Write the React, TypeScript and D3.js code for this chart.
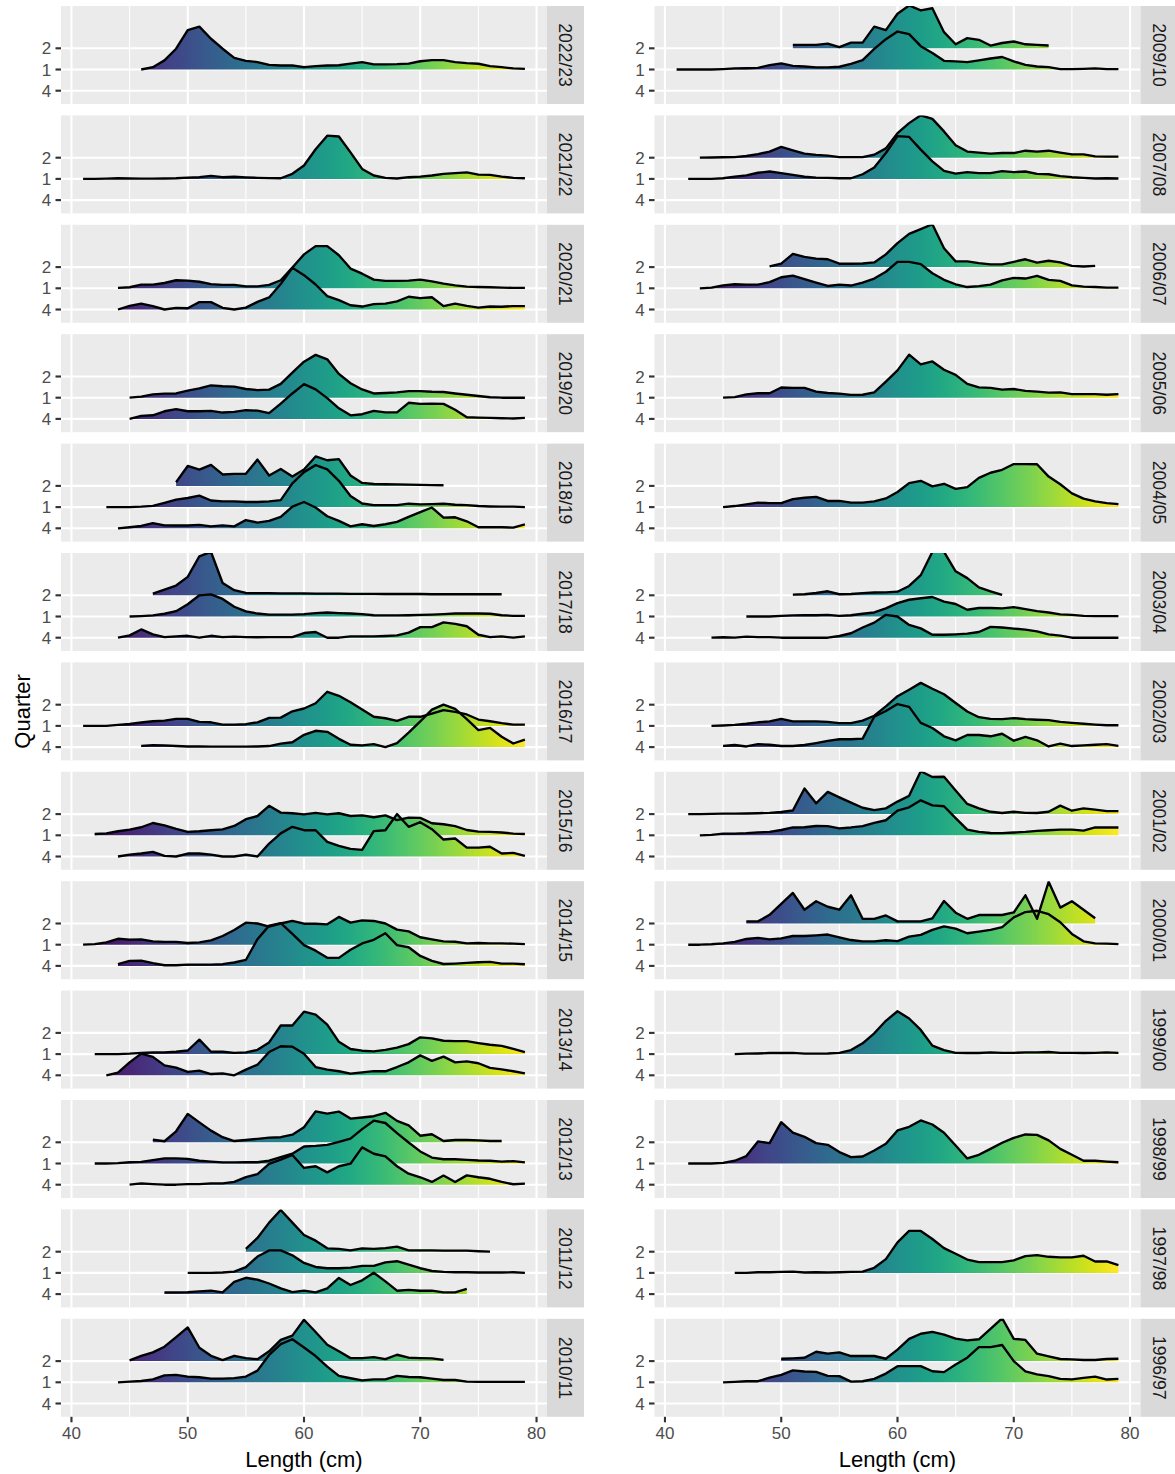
import React, { useEffect, useRef } from 'react';
import * as d3 from 'd3';

// one ridge: relative frequency per 1 cm length class, starting at `from`
type Ridge = { quarter: string; from: number; h: number[] };

const quarters = ["2", "1", "4"]; // top to bottom
const xTicks = [40, 50, 60, 70, 80];
const xMinor = [45, 55, 65, 75];

const leftSeasons = ["2022/23", "2021/22", "2020/21", "2019/20", "2018/19", "2017/18", "2016/17",
  "2015/16", "2014/15", "2013/14", "2012/13", "2011/12", "2010/11"];
const rightSeasons = ["2009/10", "2007/08", "2006/07", "2005/06", "2004/05", "2003/04", "2002/03",
  "2001/02", "2000/01", "1999/00", "1998/99", "1997/98", "1996/97"];

const s2022_23: Ridge[] = [
  { quarter: "1", from: 46, h: [0, 0.11, 0.43, 0.98, 1.86, 2.02, 1.45, 0.98, 0.55, 0.41, 0.35, 0.22, 0.19, 0.19, 0.11, 0.16, 0.19, 0.2, 0.28, 0.35, 0.24, 0.24, 0.25, 0.28, 0.39, 0.44, 0.44, 0.35, 0.3, 0.27, 0.16, 0.11, 0.05, 0.03] },
];
const s2021_22: Ridge[] = [
  { quarter: "1", from: 41, h: [0, 0, 0.01, 0.03, 0.02, 0.01, 0.01, 0.02, 0.03, 0.06, 0.08, 0.14, 0.08, 0.1, 0.07, 0.05, 0.04, 0.03, 0.24, 0.63, 1.4, 2.04, 2.0, 1.25, 0.47, 0.16, 0.05, 0.02, 0.08, 0.11, 0.16, 0.24, 0.27, 0.31, 0.2, 0.19, 0.11, 0.05, 0.03] },
];
const s2020_21: Ridge[] = [
  { quarter: "1", from: 44, h: [0.02, 0.05, 0.17, 0.17, 0.25, 0.38, 0.36, 0.31, 0.2, 0.16, 0.16, 0.09, 0.09, 0.16, 0.38, 0.98, 1.6, 1.99, 1.99, 1.56, 0.93, 0.69, 0.41, 0.35, 0.35, 0.36, 0.41, 0.33, 0.22, 0.14, 0.08, 0.06, 0.05, 0.03, 0.02, 0.02] },
  { quarter: "4", from: 44, h: [0, 0.17, 0.28, 0.16, 0, 0.08, 0.06, 0.35, 0.35, 0.08, 0, 0.09, 0.36, 0.57, 1.2, 1.97, 1.62, 1.18, 0.63, 0.44, 0.2, 0.14, 0.25, 0.28, 0.38, 0.6, 0.54, 0.58, 0.16, 0.28, 0.17, 0.09, 0.14, 0.13, 0.16, 0.16] },
];
const s2019_20: Ridge[] = [
  { quarter: "1", from: 45, h: [0, 0.05, 0.16, 0.19, 0.2, 0.33, 0.44, 0.58, 0.54, 0.52, 0.41, 0.36, 0.38, 0.65, 1.18, 1.7, 2.02, 1.81, 1.12, 0.68, 0.39, 0.2, 0.22, 0.25, 0.31, 0.31, 0.28, 0.27, 0.2, 0.14, 0.08, 0.02, 0, 0, 0] },
  { quarter: "4", from: 45, h: [0, 0.14, 0.17, 0.36, 0.46, 0.36, 0.36, 0.38, 0.3, 0.33, 0.41, 0.39, 0.27, 0.72, 1.2, 1.64, 1.39, 0.98, 0.5, 0.17, 0.22, 0.38, 0.31, 0.31, 0.76, 0.71, 0.72, 0.71, 0.43, 0.08, 0.06, 0.05, 0.03, 0.02, 0.05] },
];
const s2018_19: Ridge[] = [
  { quarter: "2", from: 49, h: [0.17, 0.94, 0.77, 0.99, 0.54, 0.57, 0.57, 1.24, 0.49, 0.8, 0.44, 0.77, 1.39, 1.21, 1.26, 0.49, 0.14, 0.09, 0.08, 0.07, 0.06, 0.05, 0.04, 0.03] },
  { quarter: "1", from: 43, h: [0, 0, 0, 0.02, 0.06, 0.2, 0.35, 0.43, 0.54, 0.31, 0.27, 0.27, 0.24, 0.24, 0.27, 0.33, 1.12, 1.65, 1.98, 1.78, 1.24, 0.52, 0.17, 0.09, 0.09, 0.09, 0.16, 0.13, 0.14, 0.16, 0.11, 0.09, 0.05, 0.03, 0.02, 0.02, 0] },
  { quarter: "4", from: 44, h: [0, 0.05, 0.11, 0.24, 0.14, 0.13, 0.13, 0.16, 0.09, 0.14, 0.09, 0.39, 0.27, 0.35, 0.54, 1.02, 1.24, 0.98, 0.57, 0.35, 0.09, 0.19, 0.11, 0.19, 0.3, 0.54, 0.76, 0.98, 0.5, 0.52, 0.33, 0.05, 0.05, 0.05, 0.03, 0.19] },
];
const s2017_18: Ridge[] = [
  { quarter: "2", from: 47, h: [0.08, 0.27, 0.46, 0.87, 1.84, 2.05, 0.58, 0.24, 0.11, 0.1, 0.1, 0.09, 0.09, 0.09, 0.08, 0.08, 0.08, 0.07, 0.07, 0.07, 0.06, 0.06, 0.06, 0.06, 0.05, 0.05, 0.05, 0.05, 0.05, 0.05, 0.05] },
  { quarter: "1", from: 45, h: [0, 0.02, 0.05, 0.13, 0.25, 0.58, 1.0, 1.04, 0.83, 0.46, 0.24, 0.14, 0.09, 0.09, 0.09, 0.11, 0.16, 0.19, 0.16, 0.14, 0.11, 0.06, 0.05, 0.05, 0.06, 0.08, 0.09, 0.11, 0.14, 0.14, 0.14, 0.13, 0.06, 0.03, 0.03] },
  { quarter: "4", from: 44, h: [0, 0.11, 0.39, 0.16, 0.03, 0.06, 0.09, 0, 0.09, 0.03, 0.05, 0.03, 0.02, 0.03, 0.03, 0.03, 0.22, 0.27, 0, 0, 0.06, 0.06, 0.06, 0.08, 0.11, 0.24, 0.5, 0.5, 0.72, 0.65, 0.54, 0.14, 0.03, 0.06, 0, 0.06] },
];
const s2016_17: Ridge[] = [
  { quarter: "1", from: 41, h: [0, 0, 0, 0.05, 0.09, 0.16, 0.22, 0.25, 0.33, 0.33, 0.19, 0.17, 0.06, 0.06, 0.08, 0.17, 0.38, 0.39, 0.69, 0.82, 1.07, 1.61, 1.42, 1.12, 0.77, 0.43, 0.36, 0.24, 0.43, 0.43, 0.58, 0.74, 0.66, 0.54, 0.3, 0.22, 0.13, 0.06, 0.06] },
  { quarter: "4", from: 46, h: [0.06, 0.09, 0.08, 0.05, 0.03, 0.03, 0.02, 0.02, 0.02, 0.02, 0.03, 0.05, 0.16, 0.23, 0.58, 0.77, 0.72, 0.39, 0.11, 0.08, 0.14, 0, 0.19, 0.68, 1.21, 1.77, 2.0, 1.8, 1.32, 0.8, 0.91, 0.49, 0.17, 0.35] },
];
const s2015_16: Ridge[] = [
  { quarter: "1", from: 42, h: [0.06, 0.09, 0.19, 0.27, 0.38, 0.58, 0.47, 0.3, 0.16, 0.19, 0.24, 0.28, 0.44, 0.76, 0.91, 1.39, 1.07, 1.04, 0.99, 1.06, 0.99, 1.04, 0.91, 0.94, 0.85, 0.94, 0.72, 0.83, 0.82, 0.57, 0.52, 0.43, 0.25, 0.17, 0.16, 0.13, 0.08, 0.06] },
  { quarter: "4", from: 44, h: [0, 0.09, 0.14, 0.22, 0.03, 0, 0.14, 0.14, 0.09, 0, 0, 0.09, 0, 0.61, 1.09, 1.4, 1.24, 1.24, 0.69, 0.5, 0.36, 0.31, 1.2, 1.24, 2.0, 1.4, 1.62, 1.29, 0.8, 0.85, 0.42, 0.42, 0.46, 0.14, 0.17, 0.03] },
];
const s2014_15: Ridge[] = [
  { quarter: "1", from: 41, h: [0, 0.03, 0.11, 0.28, 0.24, 0.25, 0.16, 0.13, 0.13, 0.08, 0.11, 0.2, 0.41, 0.69, 1.04, 1.0, 0.85, 1.0, 1.12, 0.99, 0.99, 0.96, 1.31, 1.04, 1.15, 1.12, 1.0, 0.71, 0.63, 0.35, 0.25, 0.16, 0.14, 0.06, 0.08, 0.06, 0.06, 0.05, 0.03] },
  { quarter: "4", from: 44, h: [0.08, 0.24, 0.25, 0.13, 0.03, 0.03, 0.06, 0.06, 0.06, 0.08, 0.16, 0.28, 1.26, 1.9, 2.02, 1.51, 0.98, 0.72, 0.38, 0.38, 0.76, 1.06, 1.23, 1.54, 0.98, 0.88, 0.47, 0.24, 0.09, 0.11, 0.14, 0.17, 0.19, 0.11, 0.11, 0.08] },
];
const s2013_14: Ridge[] = [
  { quarter: "1", from: 42, h: [0, 0, 0, 0.02, 0.06, 0.08, 0.08, 0.11, 0.17, 0.68, 0.11, 0.11, 0.06, 0.08, 0.2, 0.55, 1.35, 1.35, 2.0, 1.86, 1.39, 0.58, 0.24, 0.16, 0.13, 0.2, 0.31, 0.47, 0.79, 0.74, 0.63, 0.61, 0.61, 0.52, 0.44, 0.39, 0.25, 0.09] },
  { quarter: "4", from: 43, h: [0, 0.13, 0.61, 1.02, 0.87, 0.47, 0.36, 0.16, 0.22, 0.06, 0.09, 0, 0.27, 0.5, 1.1, 1.37, 1.35, 1.02, 0.39, 0.27, 0.19, 0.08, 0.14, 0.2, 0.19, 0.39, 0.61, 0.94, 0.68, 0.88, 0.61, 0.66, 0.57, 0.35, 0.28, 0.19, 0.09] },
];
const s2012_13: Ridge[] = [
  { quarter: "2", from: 47, h: [0.13, 0.05, 0.52, 1.34, 0.94, 0.55, 0.24, 0.06, 0.11, 0.16, 0.22, 0.24, 0.36, 0.71, 1.46, 1.35, 1.45, 1.12, 1.17, 1.23, 1.39, 1.01, 0.8, 0.31, 0.38, 0.06, 0.11, 0.11, 0.09, 0.06, 0.06] },
  { quarter: "1", from: 42, h: [0, 0, 0.02, 0.06, 0.08, 0.16, 0.24, 0.24, 0.22, 0.13, 0.09, 0.05, 0.05, 0.06, 0.06, 0.13, 0.3, 0.46, 0.8, 0.83, 0.88, 1.02, 1.17, 1.62, 2.02, 1.91, 1.43, 0.99, 0.57, 0.28, 0.2, 0.2, 0.17, 0.14, 0.13, 0.09, 0.11, 0.05] },
  { quarter: "4", from: 45, h: [0, 0.06, 0.03, 0, 0, 0.03, 0.03, 0.06, 0.06, 0.13, 0.36, 0.5, 0.98, 1.18, 1.4, 0.79, 0.87, 0.58, 0.87, 0.99, 1.76, 1.46, 1.34, 0.87, 0.52, 0.35, 0.13, 0.43, 0.13, 0.44, 0.35, 0.28, 0.13, 0.02, 0.05] },
];
const s2011_12: Ridge[] = [
  { quarter: "2", from: 55, h: [0.13, 0.65, 1.37, 1.97, 1.37, 0.79, 0.52, 0.16, 0.13, 0.06, 0.16, 0.13, 0.17, 0.24, 0.06, 0.06, 0.06, 0.05, 0.05, 0.05, 0.02, 0] },
  { quarter: "1", from: 50, h: [0, 0, 0, 0.02, 0.06, 0.27, 0.77, 1.06, 1.06, 0.83, 0.47, 0.28, 0.22, 0.22, 0.25, 0.33, 0.33, 0.5, 0.55, 0.39, 0.22, 0.09, 0.05, 0.03, 0.03, 0.02, 0.02, 0.02, 0.03, 0] },
  { quarter: "4", from: 48, h: [0.08, 0.08, 0.09, 0.13, 0.16, 0.08, 0.58, 0.77, 0.68, 0.5, 0.27, 0.09, 0.16, 0.08, 0.27, 0.76, 0.43, 0.65, 1.01, 0.6, 0.16, 0.2, 0.16, 0.16, 0.08, 0.08, 0.25] },
];
const s2010_11: Ridge[] = [
  { quarter: "2", from: 45, h: [0.03, 0.25, 0.41, 0.68, 1.13, 1.59, 0.63, 0.25, 0.05, 0.25, 0.14, 0.09, 0.46, 1.0, 1.2, 1.95, 1.37, 0.77, 0.46, 0.14, 0.14, 0.19, 0.09, 0.3, 0.16, 0.14, 0.13, 0.06] },
  { quarter: "1", from: 44, h: [0, 0.03, 0.06, 0.14, 0.33, 0.35, 0.27, 0.24, 0.17, 0.17, 0.2, 0.27, 0.55, 1.29, 1.8, 2.03, 1.64, 1.24, 0.74, 0.3, 0.19, 0.09, 0.14, 0.14, 0.3, 0.25, 0.24, 0.17, 0.11, 0.11, 0.03, 0.02, 0.02, 0.02, 0.02, 0.02] },
];

const s2009_10: Ridge[] = [
  { quarter: "2", from: 51, h: [0.16, 0.16, 0.16, 0.22, 0.06, 0.27, 0.27, 1.02, 0.86, 1.63, 2.02, 1.79, 1.89, 0.76, 0.19, 0.48, 0.4, 0.13, 0.25, 0.32, 0.19, 0.16, 0.13] },
  { quarter: "1", from: 41, h: [0, 0, 0, 0, 0.02, 0.05, 0.06, 0.08, 0.21, 0.29, 0.17, 0.14, 0.1, 0.1, 0.13, 0.27, 0.44, 0.97, 1.43, 1.79, 1.67, 1.1, 0.78, 0.41, 0.38, 0.35, 0.43, 0.52, 0.59, 0.38, 0.22, 0.14, 0.11, 0.02, 0.02, 0.03, 0.05, 0.02, 0.02] },
];
const s2007_08: Ridge[] = [
  { quarter: "2", from: 43, h: [0, 0.01, 0.02, 0.03, 0.08, 0.17, 0.29, 0.51, 0.35, 0.19, 0.13, 0.1, 0.03, 0.03, 0.03, 0.14, 0.44, 1.16, 1.63, 2.0, 1.83, 1.24, 0.59, 0.29, 0.24, 0.19, 0.22, 0.22, 0.33, 0.29, 0.33, 0.24, 0.16, 0.16, 0.06, 0.05, 0.05] },
  { quarter: "1", from: 42, h: [0, 0, 0, 0.03, 0.11, 0.17, 0.29, 0.35, 0.27, 0.19, 0.1, 0.06, 0.05, 0.03, 0.03, 0.22, 0.54, 1.22, 2.02, 1.98, 1.38, 0.83, 0.38, 0.25, 0.32, 0.27, 0.27, 0.37, 0.32, 0.35, 0.24, 0.22, 0.13, 0.08, 0.05, 0.02, 0.03, 0.02] },
];
const s2006_07: Ridge[] = [
  { quarter: "2", from: 49, h: [0.03, 0.16, 0.62, 0.48, 0.4, 0.37, 0.16, 0.16, 0.17, 0.22, 0.6, 1.13, 1.57, 1.79, 2.02, 0.89, 0.27, 0.27, 0.19, 0.13, 0.13, 0.25, 0.37, 0.21, 0.3, 0.22, 0.06, 0.03, 0.06] },
  { quarter: "1", from: 43, h: [0, 0.03, 0.14, 0.19, 0.17, 0.17, 0.29, 0.52, 0.6, 0.43, 0.27, 0.11, 0.17, 0.13, 0.27, 0.46, 0.78, 1.25, 1.25, 1.14, 0.71, 0.4, 0.19, 0.06, 0.1, 0.17, 0.37, 0.49, 0.46, 0.59, 0.4, 0.35, 0.14, 0.08, 0.06, 0.03, 0.03] },
];
const s2005_06: Ridge[] = [
  { quarter: "1", from: 45, h: [0, 0.03, 0.16, 0.21, 0.21, 0.48, 0.46, 0.46, 0.29, 0.22, 0.19, 0.13, 0.14, 0.25, 0.76, 1.29, 2.03, 1.57, 1.71, 1.32, 1.08, 0.65, 0.49, 0.46, 0.38, 0.41, 0.32, 0.29, 0.24, 0.25, 0.17, 0.17, 0.17, 0.14, 0.17] },
];
const s2004_05: Ridge[] = [
  { quarter: "1", from: 45, h: [0, 0.05, 0.13, 0.21, 0.19, 0.19, 0.38, 0.44, 0.48, 0.29, 0.29, 0.21, 0.21, 0.27, 0.41, 0.71, 1.13, 1.24, 0.98, 1.1, 0.86, 0.94, 1.38, 1.62, 1.76, 2.03, 2.03, 2.02, 1.44, 1.08, 0.65, 0.4, 0.27, 0.19, 0.14] },
];
const s2003_04: Ridge[] = [
  { quarter: "2", from: 51, h: [0.03, 0.05, 0.11, 0.19, 0.05, 0.06, 0.1, 0.13, 0.14, 0.17, 0.44, 0.95, 2.05, 2.05, 1.13, 0.81, 0.37, 0.19, 0.02] },
  { quarter: "1", from: 47, h: [0, 0, 0, 0.03, 0.05, 0.06, 0.06, 0.08, 0.03, 0.06, 0.13, 0.19, 0.38, 0.63, 0.79, 0.86, 0.92, 0.7, 0.59, 0.32, 0.4, 0.4, 0.38, 0.44, 0.35, 0.25, 0.19, 0.1, 0.08, 0.03, 0.02, 0.02, 0.02] },
  { quarter: "4", from: 44, h: [0, 0.02, 0, 0.05, 0.03, 0.03, 0, 0, 0, 0, 0, 0.08, 0.21, 0.48, 0.71, 1.08, 1.0, 0.6, 0.44, 0.14, 0.14, 0.16, 0.19, 0.27, 0.51, 0.48, 0.43, 0.38, 0.3, 0.16, 0.1, 0, 0, 0, 0, 0] },
];
const s2002_03: Ridge[] = [
  { quarter: "1", from: 44, h: [0, 0.02, 0.05, 0.1, 0.17, 0.21, 0.33, 0.21, 0.21, 0.21, 0.19, 0.13, 0.13, 0.25, 0.48, 0.92, 1.4, 1.71, 2.03, 1.75, 1.49, 1.08, 0.68, 0.41, 0.33, 0.32, 0.37, 0.32, 0.29, 0.27, 0.19, 0.14, 0.1, 0.06, 0.03, 0.03] },
  { quarter: "4", from: 45, h: [0.06, 0.1, 0.03, 0.14, 0.11, 0.05, 0.05, 0.1, 0.19, 0.29, 0.37, 0.37, 0.4, 1.43, 1.7, 2.03, 1.9, 1.14, 0.9, 0.51, 0.32, 0.57, 0.57, 0.51, 0.63, 0.3, 0.48, 0.32, 0.03, 0.16, 0.05, 0.08, 0.11, 0.14, 0.06] },
];
const s2001_02: Ridge[] = [
  { quarter: "2", from: 42, h: [0, 0, 0.01, 0.02, 0.02, 0.03, 0.04, 0.06, 0.1, 0.17, 1.21, 0.51, 1.05, 0.79, 0.54, 0.3, 0.19, 0.27, 0.59, 0.86, 2.02, 1.75, 1.76, 1.11, 0.48, 0.27, 0.11, 0.05, 0.11, 0.06, 0.05, 0.11, 0.4, 0.16, 0.27, 0.21, 0.14, 0.14] },
  { quarter: "1", from: 43, h: [0, 0.02, 0.08, 0.08, 0.1, 0.14, 0.16, 0.25, 0.37, 0.38, 0.44, 0.43, 0.33, 0.37, 0.43, 0.59, 0.71, 1.16, 1.32, 1.65, 1.41, 1.37, 0.81, 0.27, 0.16, 0.11, 0.1, 0.13, 0.16, 0.21, 0.24, 0.27, 0.27, 0.22, 0.37, 0.37, 0.37] },
];
const s2000_01: Ridge[] = [
  { quarter: "2", from: 47, h: [0.1, 0.1, 0.41, 0.93, 1.44, 0.65, 1.05, 0.79, 0.65, 1.33, 0.22, 0.22, 0.38, 0.1, 0.1, 0.1, 0.24, 1.06, 0.51, 0.22, 0.4, 0.4, 0.4, 0.52, 1.33, 0.22, 1.97, 0.75, 1.05, 0.65, 0.25] },
  { quarter: "1", from: 42, h: [0, 0, 0.02, 0.06, 0.13, 0.27, 0.32, 0.25, 0.3, 0.41, 0.41, 0.44, 0.48, 0.35, 0.22, 0.16, 0.16, 0.21, 0.17, 0.38, 0.46, 0.7, 0.86, 0.76, 0.54, 0.62, 0.7, 0.83, 1.29, 1.54, 1.6, 1.44, 1.06, 0.51, 0.16, 0.06, 0.05, 0.03] },
];
const s1999_00: Ridge[] = [
  { quarter: "1", from: 46, h: [0, 0.02, 0.03, 0.05, 0.05, 0.06, 0.02, 0.02, 0.03, 0.06, 0.19, 0.51, 0.98, 1.57, 2.02, 1.68, 1.14, 0.4, 0.19, 0.06, 0.05, 0.05, 0.08, 0.06, 0.06, 0.08, 0.08, 0.1, 0.06, 0.06, 0.05, 0.06, 0.08, 0.06] },
];
const s1998_99: Ridge[] = [
  { quarter: "1", from: 42, h: [0, 0, 0, 0.03, 0.13, 0.35, 1.04, 0.96, 1.95, 1.46, 1.26, 0.96, 0.88, 0.54, 0.3, 0.33, 0.61, 0.93, 1.56, 1.73, 2.03, 1.84, 1.45, 0.85, 0.24, 0.41, 0.69, 0.98, 1.21, 1.37, 1.35, 1.09, 0.69, 0.41, 0.13, 0.13, 0.09, 0.06] },
];
const s1997_98: Ridge[] = [
  { quarter: "1", from: 46, h: [0, 0, 0.03, 0.03, 0.05, 0.06, 0.02, 0.03, 0.02, 0.03, 0.05, 0.06, 0.24, 0.65, 1.44, 1.98, 1.98, 1.6, 1.17, 0.9, 0.63, 0.51, 0.51, 0.51, 0.59, 0.79, 0.84, 0.76, 0.73, 0.73, 0.81, 0.54, 0.54, 0.37] },
];
const s1996_97: Ridge[] = [
  { quarter: "2", from: 50, h: [0.11, 0.13, 0.16, 0.44, 0.35, 0.41, 0.24, 0.24, 0.24, 0.11, 0.54, 1.05, 1.29, 1.38, 1.25, 1.06, 0.98, 1.03, 1.52, 2.02, 1.05, 1.0, 0.35, 0.22, 0.1, 0.08, 0.05, 0.05, 0.1, 0.11] },
  { quarter: "1", from: 45, h: [0, 0.02, 0.05, 0.05, 0.22, 0.35, 0.56, 0.51, 0.49, 0.3, 0.29, 0.03, 0.05, 0.16, 0.41, 0.76, 0.76, 0.76, 0.52, 0.48, 0.84, 1.16, 1.66, 1.66, 1.76, 1.0, 0.52, 0.37, 0.29, 0.16, 0.14, 0.21, 0.27, 0.13, 0.16] },
];

const leftPanels = [s2022_23, s2021_22, s2020_21, s2019_20, s2018_19, s2017_18, s2016_17,
  s2015_16, s2014_15, s2013_14, s2012_13, s2011_12, s2010_11];
const rightPanels = [s2009_10, s2007_08, s2006_07, s2005_06, s2004_05, s2003_04, s2002_03,
  s2001_02, s2000_01, s1999_00, s1998_99, s1997_98, s1996_97];

const FONT = "'Liberation Sans', Arial, Helvetica, sans-serif";

const App: React.FC = () => {
  const svgRef = useRef<SVGSVGElement>(null);

  useEffect(() => {
    if (!svgRef.current) return;
    const svg = d3.select(svgRef.current);
    svg.selectAll("*").remove();

    const panelTop0 = 6;
    const rowStep = 109.4;
    const panelH = 98;
    const stripW = 37;
    const unit = 21.2; // px per height unit (gap between two quarters)

    const defs = svg.append("defs");
    const columns = [
      { x0: 61, x1: 547, seasons: leftSeasons, panels: leftPanels },
      { x0: 654.5, x1: 1140.5, seasons: rightSeasons, panels: rightPanels },
    ];

    columns.forEach((col, ci) => {
      const x = d3.scaleLinear().domain([39.1, 80.9]).range([col.x0, col.x1]);

      // viridis fill along length
      const grad = defs.append("linearGradient")
        .attr("id", `vir${ci}`)
        .attr("gradientUnits", "userSpaceOnUse")
        .attr("x1", x(41)).attr("x2", x(79))
        .attr("y1", 0).attr("y2", 0);
      d3.range(0, 1.0001, 0.025).forEach(t => {
        grad.append("stop").attr("offset", t).attr("stop-color", d3.interpolateViridis(t));
      });

      col.seasons.forEach((season, ri) => {
        const top = panelTop0 + ri * rowStep;
        const y = d3.scalePoint<string>().domain(quarters).range([top + 42.3, top + 84.7]);
        const g = svg.append("g");

        const clipId = `clip${ci}_${ri}`;
        defs.append("clipPath").attr("id", clipId)
          .append("rect").attr("x", col.x0).attr("y", top)
          .attr("width", col.x1 - col.x0).attr("height", panelH);

        // panel background + grid
        g.append("rect")
          .attr("x", col.x0).attr("y", top)
          .attr("width", col.x1 - col.x0).attr("height", panelH)
          .attr("fill", "#EBEBEB");

        g.append("g").selectAll("line").data(xMinor).join("line")
          .attr("x1", d => x(d)).attr("x2", d => x(d))
          .attr("y1", top).attr("y2", top + panelH)
          .attr("stroke", "white").attr("stroke-width", 1.07);
        g.append("g").selectAll("line").data(xTicks).join("line")
          .attr("x1", d => x(d)).attr("x2", d => x(d))
          .attr("y1", top).attr("y2", top + panelH)
          .attr("stroke", "white").attr("stroke-width", 2.13);
        g.append("g").selectAll("line").data(quarters).join("line")
          .attr("x1", col.x0).attr("x2", col.x1)
          .attr("y1", d => y(d)!).attr("y2", d => y(d)!)
          .attr("stroke", "white").attr("stroke-width", 2.13);

        // ridges: all fills first, then the outlines
        const ridges = [...col.panels[ri]].sort(
          (a, b) => quarters.indexOf(a.quarter) - quarters.indexOf(b.quarter));
        const marks = g.append("g").attr("clip-path", `url(#${clipId})`);

        ridges.forEach(r => {
          const base = y(r.quarter)!;
          const pts: [number, number][] = r.h.map((v, i) => [r.from + i, v]);
          const area = d3.area<[number, number]>()
            .x(d => x(d[0])).y0(base).y1(d => base - d[1] * unit);
          marks.append("path")
            .datum(pts)
            .attr("d", area)
            .attr("fill", `url(#vir${ci})`);
        });
        ridges.forEach(r => {
          const base = y(r.quarter)!;
          const pts: [number, number][] = r.h.map((v, i) => [r.from + i, v]);
          const line = d3.line<[number, number]>()
            .x(d => x(d[0])).y(d => base - d[1] * unit);
          marks.append("path")
            .datum(pts)
            .attr("d", line)
            .attr("fill", "none")
            .attr("stroke", "black")
            .attr("stroke-width", 2.35)
            .attr("stroke-linejoin", "round");
        });

        // y axis
        const ya = g.append("g");
        ya.selectAll("line").data(quarters).join("line")
          .attr("x1", col.x0 - 5.5).attr("x2", col.x0)
          .attr("y1", d => y(d)!).attr("y2", d => y(d)!)
          .attr("stroke", "#333333").attr("stroke-width", 2.13);
        ya.selectAll("text").data(quarters).join("text")
          .attr("x", col.x0 - 9.9)
          .attr("y", d => y(d)!)
          .attr("dy", "0.36em")
          .attr("text-anchor", "end")
          .attr("font-family", FONT)
          .attr("font-size", 17)
          .attr("fill", "#4D4D4D")
          .text(d => d);

        // strip
        g.append("rect")
          .attr("x", col.x1).attr("y", top)
          .attr("width", stripW).attr("height", panelH)
          .attr("fill", "#D9D9D9");
        g.append("text")
          .attr("transform", `translate(${col.x1 + stripW / 2},${top + panelH / 2}) rotate(90)`)
          .attr("text-anchor", "middle")
          .attr("dy", "0.36em")
          .attr("font-family", FONT)
          .attr("font-size", 17.6)
          .attr("fill", "#1A1A1A")
          .text(season);

        // x axis on bottom row
        if (ri === col.seasons.length - 1) {
          const bottom = top + panelH;
          const xa = g.append("g");
          xa.selectAll("line").data(xTicks).join("line")
            .attr("x1", d => x(d)).attr("x2", d => x(d))
            .attr("y1", bottom).attr("y2", bottom + 5.5)
            .attr("stroke", "#333333").attr("stroke-width", 2.13);
          xa.selectAll("text").data(xTicks).join("text")
            .attr("x", d => x(d))
            .attr("y", bottom + 22.5)
            .attr("text-anchor", "middle")
            .attr("font-family", FONT)
            .attr("font-size", 17)
            .attr("fill", "#4D4D4D")
            .text(d => String(d));
          g.append("text")
            .attr("x", (col.x0 + col.x1) / 2)
            .attr("y", 1467)
            .attr("text-anchor", "middle")
            .attr("font-family", FONT)
            .attr("font-size", 22)
            .attr("fill", "black")
            .text("Length (cm)");
        }
      });
    });

    // shared y title
    const midY = (panelTop0 + panelTop0 + 12 * rowStep + panelH) / 2;
    svg.append("text")
      .attr("transform", `translate(29.5,${midY}) rotate(-90)`)
      .attr("text-anchor", "middle")
      .attr("font-family", FONT)
      .attr("font-size", 22)
      .attr("fill", "black")
      .text("Quarter");
  }, []);

  return (
    <svg
      ref={svgRef}
      width={1175}
      height={1474}
      style={{ position: 'absolute', left: 0, top: 0, background: 'white' }}
    />
  );
};

export default App;
